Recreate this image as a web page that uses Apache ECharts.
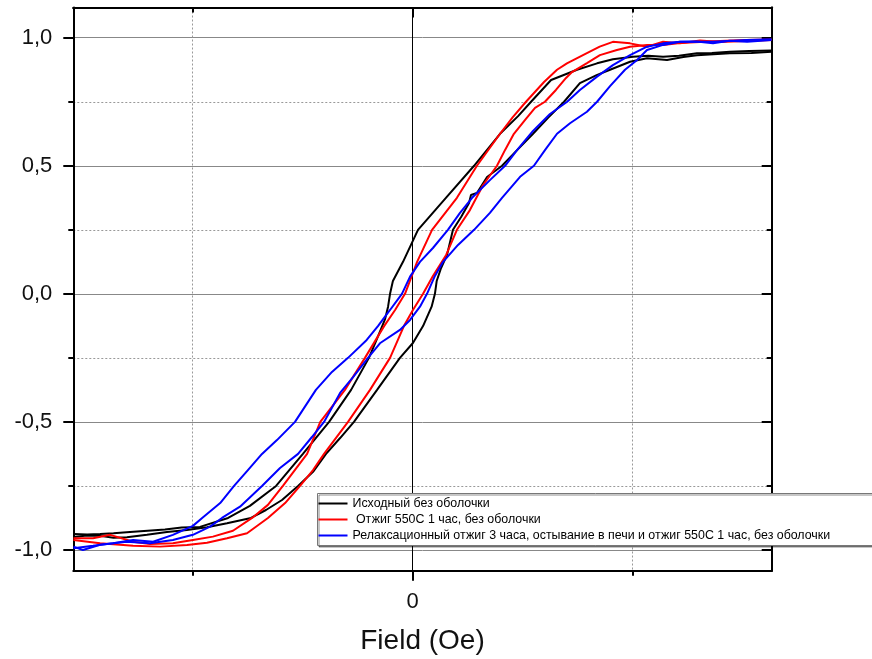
<!DOCTYPE html>
<html><head><meta charset="utf-8">
<script src="https://cdn.jsdelivr.net/npm/echarts@6/dist/echarts.min.js"></script>
<style>html,body{margin:0;padding:0;background:#fff}#c{width:872px;height:659px}</style>
</head><body><div id="c"></div>
<script>
const seriesNames = ['Исходный без оболочки', ' Отжиг 550С 1 час, без оболочки', 'Релаксационный отжиг 3 часа, остывание в печи и отжиг 550С 1 час, без оболочки'];
const seriesColors = ['#000000', '#ff0000', '#0000ff'];
const xTickMajor = [0];
const xTickMinor = [-1, 1];
const yTickMajor = [-1, -0.5, 0, 0.5, 1];
const yTickMinor = [-0.75, -0.25, 0.25, 0.75];
const X_MIN = -1.5427, X_MAX = 1.6318, Y_MIN = -1.081, Y_MAX = 1.118;

const blackDown = [[1.631,0.950],[1.530,0.948],[1.442,0.945],[1.360,0.940],[1.292,0.939],[1.210,0.930],[1.138,0.926],[1.070,0.930],[1.001,0.926],[0.910,0.916],[0.838,0.900],[0.747,0.875],[0.629,0.835],[0.538,0.750],[0.479,0.694],[0.397,0.625],[0.279,0.500],[0.151,0.375],[0.024,0.250],[-0.044,0.125],[-0.090,0.050],[-0.103,0.000],[-0.112,-0.050],[-0.126,-0.100],[-0.162,-0.175],[-0.199,-0.250],[-0.280,-0.375],[-0.380,-0.500],[-0.499,-0.625],[-0.621,-0.750],[-0.740,-0.828],[-0.839,-0.875],[-0.967,-0.910],[-1.050,-0.912],[-1.126,-0.920],[-1.205,-0.925],[-1.285,-0.930],[-1.360,-0.935],[-1.421,-0.938],[-1.480,-0.940],[-1.542,-0.938]];
const blackUp = [[-1.542,-0.949],[-1.480,-0.944],[-1.421,-0.945],[-1.360,-0.952],[-1.299,-0.950],[-1.208,-0.941],[-1.117,-0.930],[-1.026,-0.922],[-0.935,-0.911],[-0.844,-0.896],[-0.735,-0.875],[-0.667,-0.844],[-0.594,-0.805],[-0.521,-0.750],[-0.453,-0.695],[-0.394,-0.625],[-0.330,-0.563],[-0.267,-0.500],[-0.162,-0.375],[-0.058,-0.250],[0.001,-0.192],[0.047,-0.126],[0.086,-0.050],[0.101,0.000],[0.109,0.050],[0.129,0.101],[0.156,0.152],[0.183,0.250],[0.220,0.300],[0.256,0.355],[0.265,0.386],[0.292,0.394],[0.338,0.456],[0.406,0.500],[0.479,0.565],[0.547,0.625],[0.615,0.687],[0.688,0.750],[0.760,0.823],[0.836,0.854],[0.897,0.875],[0.988,0.906],[1.065,0.920],[1.156,0.913],[1.230,0.925],[1.292,0.932],[1.442,0.939],[1.540,0.940],[1.631,0.945]];
const redDown = [[1.631,0.991],[1.511,0.987],[1.397,0.983],[1.306,0.989],[1.215,0.978],[1.138,0.984],[1.065,0.965],[0.988,0.978],[0.910,0.984],[0.850,0.965],[0.774,0.932],[0.701,0.900],[0.656,0.875],[0.597,0.827],[0.515,0.750],[0.455,0.690],[0.397,0.625],[0.292,0.500],[0.201,0.375],[0.088,0.250],[0.020,0.125],[-0.035,0.000],[-0.080,-0.063],[-0.130,-0.126],[-0.217,-0.250],[-0.308,-0.375],[-0.420,-0.500],[-0.480,-0.625],[-0.590,-0.750],[-0.658,-0.824],[-0.730,-0.875],[-0.817,-0.925],[-0.908,-0.948],[-0.999,-0.961],[-1.090,-0.974],[-1.194,-0.977],[-1.271,-0.968],[-1.375,-0.941],[-1.453,-0.954],[-1.542,-0.954]];
const redUp = [[-1.542,-0.961],[-1.421,-0.974],[-1.271,-0.984],[-1.148,-0.987],[-1.026,-0.981],[-0.935,-0.972],[-0.844,-0.954],[-0.753,-0.935],[-0.658,-0.875],[-0.580,-0.817],[-0.512,-0.750],[-0.453,-0.688],[-0.403,-0.625],[-0.294,-0.500],[-0.194,-0.375],[-0.103,-0.250],[-0.040,-0.126],[0.001,-0.063],[0.047,0.000],[0.092,0.070],[0.152,0.152],[0.201,0.250],[0.260,0.327],[0.320,0.425],[0.383,0.500],[0.420,0.562],[0.460,0.625],[0.511,0.679],[0.556,0.726],[0.601,0.750],[0.651,0.796],[0.697,0.843],[0.724,0.866],[0.792,0.901],[0.851,0.932],[0.928,0.952],[0.988,0.965],[1.065,0.972],[1.138,0.972],[1.215,0.979],[1.306,0.983],[1.397,0.987],[1.511,0.991],[1.631,0.993]];
const blueDown = [[1.631,0.991],[1.520,0.984],[1.440,0.988],[1.365,0.978],[1.290,0.985],[1.215,0.984],[1.138,0.978],[1.065,0.965],[0.988,0.932],[0.910,0.893],[0.838,0.848],[0.760,0.796],[0.702,0.750],[0.624,0.702],[0.547,0.636],[0.474,0.561],[0.420,0.500],[0.351,0.444],[0.270,0.375],[0.215,0.316],[0.160,0.250],[0.092,0.179],[0.033,0.125],[-0.012,0.067],[-0.049,0.000],[-0.103,-0.063],[-0.158,-0.126],[-0.209,-0.180],[-0.294,-0.250],[-0.367,-0.305],[-0.440,-0.375],[-0.535,-0.500],[-0.617,-0.571],[-0.685,-0.625],[-0.749,-0.688],[-0.812,-0.750],[-0.875,-0.817],[-0.957,-0.875],[-0.999,-0.906],[-1.090,-0.941],[-1.180,-0.968],[-1.271,-0.961],[-1.362,-0.974],[-1.453,-0.984],[-1.542,-0.993]];
const blueUp = [[-1.542,-0.987],[-1.499,-1.000],[-1.421,-0.980],[-1.299,-0.968],[-1.194,-0.974],[-1.090,-0.961],[-0.999,-0.941],[-0.921,-0.909],[-0.867,-0.875],[-0.785,-0.831],[-0.685,-0.750],[-0.603,-0.680],[-0.521,-0.625],[-0.458,-0.559],[-0.403,-0.500],[-0.330,-0.387],[-0.271,-0.325],[-0.203,-0.250],[-0.149,-0.193],[-0.058,-0.141],[-0.012,-0.102],[0.033,-0.050],[0.065,0.000],[0.101,0.070],[0.138,0.125],[0.206,0.191],[0.279,0.250],[0.351,0.316],[0.406,0.375],[0.488,0.457],[0.551,0.500],[0.602,0.562],[0.656,0.625],[0.715,0.666],[0.792,0.711],[0.838,0.750],[0.897,0.811],[0.965,0.875],[1.020,0.913],[1.065,0.952],[1.138,0.972],[1.215,0.984],[1.365,0.984],[1.520,0.991],[1.631,0.994]];

const FONT = '"Liberation Sans", Arial, sans-serif';
const chart = echarts.init(document.getElementById('c'), null, {renderer: 'canvas'});

function xAx(pos, ticks, len, inside, extra) {
  return Object.assign({
    type: 'value', position: pos, min: X_MIN, max: X_MAX,
    axisLine: {show: true, onZero: false, lineStyle: {color: '#000', width: 2}},
    axisTick: {show: true, customValues: ticks, length: len, inside: inside, lineStyle: {color: '#000', width: 2}},
    axisLabel: {show: false},
    splitLine: {show: false}
  }, extra || {});
}
function yAx(pos, ticks, len, inside, extra) {
  return Object.assign({
    type: 'value', position: pos, min: Y_MIN, max: Y_MAX,
    axisLine: {show: true, onZero: false, lineStyle: {color: '#000', width: 2}},
    axisTick: {show: true, customValues: ticks, length: len, inside: inside, lineStyle: {color: '#000', width: 2}},
    axisLabel: {show: false},
    splitLine: {show: false}
  }, extra || {});
}

const branches = [[blackDown, blackUp], [redDown, redUp], [blueDown, blueUp]];
const series = [];
branches.forEach((pair, i) => {
  pair.forEach(d => {
    series.push({
      type: 'line', name: seriesNames[i], data: d, showSymbol: false, symbol: 'none',
      xAxisIndex: 0, yAxisIndex: 0,
      lineStyle: {color: seriesColors[i], width: 2}, itemStyle: {color: seriesColors[i]},
      emphasis: {disabled: true}
    });
  });
});

chart.setOption({
  animation: false,
  backgroundColor: '#fff',
  grid: {left: 73.3, right: 100.3, top: 7.5, bottom: 88.3, containLabel: false, outerBoundsMode: 'none'},
  xAxis: [
    xAx('bottom', xTickMajor, 10, false, {
      axisLabel: {show: true, customValues: xTickMajor, formatter: v => String(Math.round(v)), fontSize: 22, color: '#111', margin: 20, fontFamily: FONT},
      splitLine: {show: true, lineStyle: {color: '#000', width: 1}},
      name: 'Field (Oe)', nameLocation: 'middle', nameGap: 57,
      nameTextStyle: {fontSize: 28, color: '#111', fontFamily: FONT}
    }),
    xAx('bottom', xTickMinor, 5, false, {
      axisLine: {show: false, onZero: false},
      splitLine: {show: true, lineStyle: {color: '#999', width: 1, type: [2, 2]}}
    }),
    xAx('top', xTickMajor, 10, true),
    xAx('top', xTickMinor, 5, true)
  ],
  yAxis: [
    yAx('left', yTickMajor, 10, false, {
      axisLabel: {show: true, customValues: yTickMajor, formatter: v => v.toFixed(1).replace('.', ','), fontSize: 22, color: '#111', margin: 21, fontFamily: FONT},
      splitLine: {show: true, lineStyle: {color: '#888', width: 1}}
    }),
    yAx('left', yTickMinor, 5, false, {
      axisLine: {show: false, onZero: false},
      splitLine: {show: true, lineStyle: {color: '#999', width: 1, type: [2, 2]}}
    }),
    yAx('right', yTickMajor, 10, true),
    yAx('right', yTickMinor, 5, true)
  ],
  legend: {
    data: seriesNames, orient: 'vertical', left: 317.5, top: 493.5,
    icon: 'rect', itemWidth: 29, itemHeight: 2, itemGap: 0,
    padding: [2, 60, 2, 1], backgroundColor: '#fff', borderColor: '#777', borderWidth: 1, borderRadius: 0,
    shadowColor: 'rgba(0,0,0,0.45)', shadowOffsetX: 1.5, shadowOffsetY: 1.5, shadowBlur: 0,
    selectedMode: false,
    textStyle: {fontSize: 12.4, color: '#000', fontFamily: FONT, lineHeight: 16}
  },
  series: series
});
</script></body></html>
